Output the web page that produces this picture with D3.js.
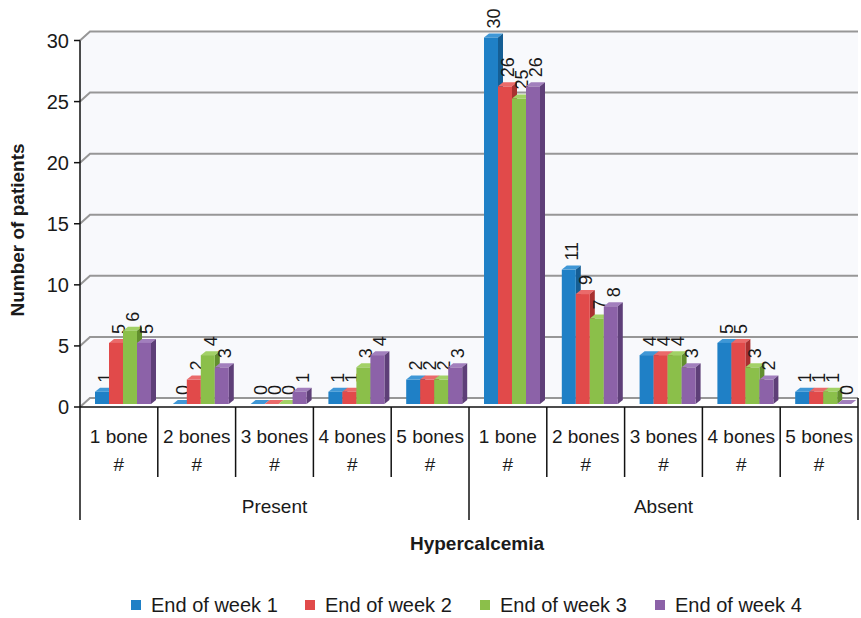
<!DOCTYPE html>
<html>
<head>
<meta charset="utf-8">
<script src="https://cdn.jsdelivr.net/npm/d3@7/dist/d3.min.js"></script>
<style>
  body { margin: 0; background: #fff; }
  svg text { font-family: "Liberation Sans", Arial, Helvetica, sans-serif; fill: #1a1a1a; }
</style>
</head>
<body>
<svg id="chart" width="861" height="618"></svg>
<script>
// Hypercalcemia groups and bone-involvement categories
const groups = ["Present", "Absent"];
const boneLabels = ["1 bone", "2 bones", "3 bones", "4 bones", "5 bones"];
const seriesNames = ["End of week 1", "End of week 2", "End of week 3", "End of week 4"];
const colors = ["#1f80c6", "#e14a4a", "#8bbf4a", "#8c62a8"];
const sideColors = ["#155e94", "#a83030", "#628f2e", "#5e3f78"];
const topColors = ["#3f97d6", "#ea6a6a", "#a2d166", "#a27fbd"];

// Number of patients per category, one array per week
const week1 = [1, 0, 0, 1, 2, 30, 11, 4, 5, 1];
const week2 = [5, 2, 0, 1, 2, 26, 9, 4, 5, 1];
const week3 = [6, 4, 0, 3, 2, 25, 7, 4, 3, 1];
const week4 = [5, 3, 1, 4, 3, 26, 8, 3, 2, 0];
const yTicks = [0, 5, 10, 15, 20, 25, 30];

const series = [week1, week2, week3, week4];
const categories = [];
groups.forEach(g => boneLabels.forEach(b => categories.push(g + "|" + b)));

const svg = d3.select("#chart");
const plotLeft = 80, plotRight = 858, plotBottom = 407, plotTop = 40.5;
const wallDx = 10, wallDy = 9;      // depth of the back wall
const barDx = 5, barDy = 4;         // depth of each bar
const barShift = 3;                  // bars sit slightly behind the front edge

const x = d3.scaleBand().domain(categories).range([plotLeft, plotRight]).padding(0);
const y = d3.scaleLinear().domain([0, 30]).range([plotBottom, plotTop]);
const inner = d3.scaleBand().domain(d3.range(series.length))
  .range([15, 71]).padding(0);

// Walls
svg.append("path")
  .attr("d", `M${plotLeft},${y(30)} L${plotLeft + wallDx},${y(30) - wallDy} L${plotRight},${y(30) - wallDy} L${plotRight},${plotBottom - wallDy} L${plotLeft + wallDx},${plotBottom - wallDy} L${plotLeft},${plotBottom} Z`)
  .attr("fill", "#f8f9fc");

// Gridlines with the perspective step at the left wall
const grid = svg.append("g");
yTicks.forEach(t => {
  grid.append("path")
    .attr("d", `M${plotLeft},${y(t)} L${plotLeft + wallDx},${y(t) - wallDy} L${plotRight},${y(t) - wallDy}`)
    .attr("fill", "none").attr("stroke", "#979797").attr("stroke-width", 2);
});

// Bars
const barsG = svg.append("g");
categories.forEach((c, ci) => {
  series.forEach((vals, si) => {
    const v = vals[ci];
    const x0 = x(c) + inner(si);
    const w = inner.bandwidth();
    const yb = plotBottom - barShift;
    const yt = y(v) - barShift;
    const g = barsG.append("g");
    // top face
    g.append("path")
      .attr("d", `M${x0},${yt} L${x0 + barDx},${yt - barDy} L${x0 + w + barDx},${yt - barDy} L${x0 + w},${yt} Z`)
      .attr("fill", topColors[si]);
    if (v > 0) {
      // side face
      g.append("path")
        .attr("d", `M${x0 + w},${yt} L${x0 + w + barDx},${yt - barDy} L${x0 + w + barDx},${yb - barDy} L${x0 + w},${yb} Z`)
        .attr("fill", sideColors[si]);
      // front face
      g.append("rect")
        .attr("x", x0).attr("y", yt).attr("width", w).attr("height", yb - yt)
        .attr("fill", colors[si]);
    }
    // value label, rotated
    const lx = x0 + w / 2 + barDx / 2 + 6.5;
    const ly = yt - barDy - 5;
    g.append("text")
      .attr("transform", `translate(${lx},${ly}) rotate(-90)`)
      .attr("text-anchor", "start")
      .attr("font-size", 18)
      .text(v);
  });
});

// Y axis
const yAxis = svg.append("g");
yAxis.append("line").attr("x1", plotLeft).attr("x2", plotLeft).attr("y1", y(30)).attr("y2", plotBottom)
  .attr("stroke", "#111").attr("stroke-width", 1.5);
yTicks.forEach(t => {
  yAxis.append("line").attr("x1", plotLeft - 6).attr("x2", plotLeft).attr("y1", y(t)).attr("y2", y(t))
    .attr("stroke", "#111").attr("stroke-width", 1.5);
  yAxis.append("text").attr("x", plotLeft - 11).attr("y", y(t) + 7)
    .attr("text-anchor", "end").attr("font-size", 20).text(t);
});

// X axis with two-level category labels
const xAxis = svg.append("g");
xAxis.append("line").attr("x1", plotLeft).attr("x2", plotRight).attr("y1", plotBottom).attr("y2", plotBottom)
  .attr("stroke", "#111").attr("stroke-width", 1.5);
categories.forEach((c, i) => {
  const xs = x(c);
  const isGroupEdge = i % boneLabels.length === 0;
  xAxis.append("line").attr("x1", xs).attr("x2", xs).attr("y1", plotBottom)
    .attr("y2", isGroupEdge ? 520 : 477).attr("stroke", "#111").attr("stroke-width", 1.5);
  const cx = xs + x.bandwidth() / 2;
  xAxis.append("text").attr("x", cx).attr("y", 443).attr("text-anchor", "middle")
    .attr("font-size", 19).text(c.split("|")[1]);
  xAxis.append("text").attr("x", cx).attr("y", 471).attr("text-anchor", "middle")
    .attr("font-size", 19).text("#");
});
xAxis.append("line").attr("x1", plotRight).attr("x2", plotRight).attr("y1", plotBottom - wallDy)
  .attr("y2", 520).attr("stroke", "#111").attr("stroke-width", 1.5);
groups.forEach((g, gi) => {
  const x0 = x(categories[gi * boneLabels.length]);
  const x1 = gi === groups.length - 1 ? plotRight : x(categories[(gi + 1) * boneLabels.length]);
  xAxis.append("text").attr("x", (x0 + x1) / 2).attr("y", 513).attr("text-anchor", "middle")
    .attr("font-size", 19).text(g);
});

// Axis titles
svg.append("text").attr("x", 477).attr("y", 550).attr("text-anchor", "middle")
  .attr("font-size", 19).attr("font-weight", "bold").text("Hypercalcemia");
svg.append("text").attr("transform", "translate(24,230) rotate(-90)")
  .attr("text-anchor", "middle").attr("font-size", 19).attr("font-weight", "bold")
  .text("Number of patients");

// Legend
const legendX = [131, 305, 480, 655];
const legend = svg.append("g");
seriesNames.forEach((n, i) => {
  legend.append("rect").attr("x", legendX[i]).attr("y", 600).attr("width", 10).attr("height", 10)
    .attr("fill", colors[i]);
  legend.append("text").attr("x", legendX[i] + 20).attr("y", 612).attr("font-size", 20).text(n);
});
</script>
</body>
</html>
